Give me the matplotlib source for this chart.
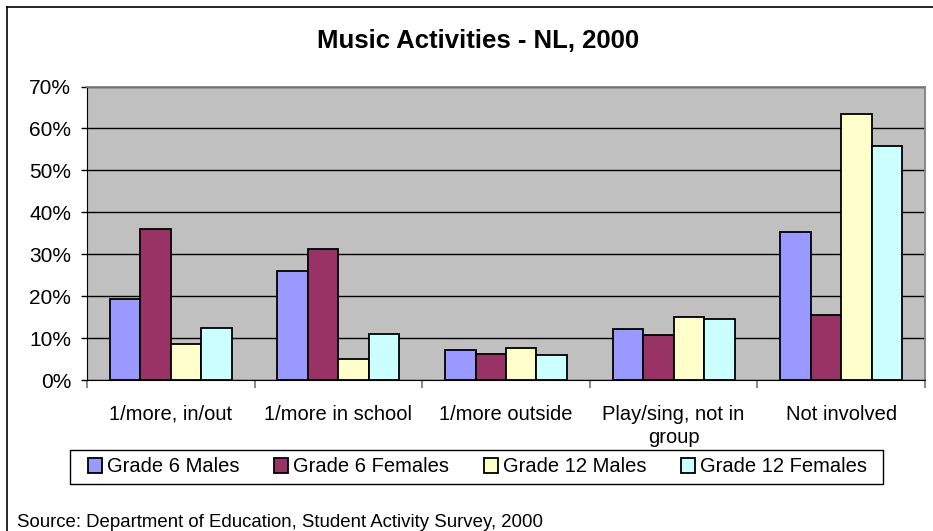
import numpy as np
import matplotlib
matplotlib.use("Agg")
import matplotlib.pyplot as plt
from matplotlib.patches import Patch, Rectangle
from matplotlib.lines import Line2D

plt.rcParams['font.family'] = ['Liberation Sans', 'DejaVu Sans']

### DATA ###
categories = ["1/more, in/out", "1/more in school", "1/more outside",
              "Play/sing, not in\ngroup", "Not involved"]
series_names = ["Grade 6 Males", "Grade 6 Females", "Grade 12 Males", "Grade 12 Females"]
g6_males    = [19.3, 25.9, 7.1, 12.2, 35.2]
g6_females  = [35.9, 31.2, 6.1, 10.7, 15.4]
g12_males   = [8.7, 4.9, 7.6, 15.1, 63.5]
g12_females = [12.3, 11.0, 6.0, 14.6, 55.8]
yticks = [0, 10, 20, 30, 40, 50, 60, 70]

colors = ["#9999FF", "#993366", "#FFFFCC", "#CCFFFF"]

### PLOTTING ###
W, H = 933, 531
fig = plt.figure(figsize=(W / 100, H / 100), dpi=100)
ax = fig.add_axes([87 / W, 1 - 380 / H, (925 - 87) / W, (380 - 86.5) / H])
ax.set_facecolor("#C0C0C0")

x = np.arange(len(categories))
bw = 1 / 5.5
allseries = [g6_males, g6_females, g12_males, g12_females]
for i, vals in enumerate(allseries):
    ax.bar(x + (i - 1.5) * bw, vals, width=bw, color=colors[i],
           edgecolor="black", linewidth=1.3, zorder=3)

ax.set_xlim(-0.5, len(categories) - 0.5)
ax.set_ylim(0, 70)
ax.set_yticks(yticks)
ax.set_yticklabels(["{}%".format(v) for v in yticks], fontsize=15)
ax.yaxis.grid(True, color="black", linewidth=1.0, zorder=1)
ax.set_axisbelow(True)

ax.set_xticks(x)
ax.set_xticklabels(categories, fontsize=14.5, linespacing=1.25)
ax.tick_params(axis="x", length=0, pad=18)
ax.set_xticks(np.arange(len(categories) + 1) - 0.5, minor=True)
ax.tick_params(axis="x", which="minor", length=6, color="#808080", width=1.3)
ax.tick_params(axis="y", length=4.5, width=1.0, color="black", pad=7)

for s in ["top", "right"]:
    ax.spines[s].set_color("#808080")
    ax.spines[s].set_linewidth(1.3)
ax.spines["left"].set_color("black")
ax.spines["bottom"].set_color("black")

fig.text(478.5 / W, 1 - 48 / H, "Music Activities - NL, 2000", ha="center", va="baseline",
         fontsize=18.5, fontweight="bold")

# legend: entries without frame, frame drawn as its own box
handles = [Patch(facecolor=c, edgecolor="black", linewidth=1.3) for c in colors]
leg = fig.legend(handles, series_names, loc="center", ncol=4,
                 bbox_to_anchor=(477.5 / W, 1 - 467 / H),
                 fontsize=14.5, frameon=False, borderaxespad=0, borderpad=0,
                 handlelength=0.72, handleheight=0.72, handletextpad=0.25,
                 columnspacing=1.7)
fig.add_artist(Rectangle((70 / W, 1 - 484 / H), (883 - 70) / W, 34 / H,
                         transform=fig.transFigure, facecolor="none",
                         edgecolor="black", linewidth=1.0))

fig.text(17 / W, 1 - 527 / H, "Source: Department of Education, Student Activity Survey, 2000",
         ha="left", va="baseline", fontsize=13.4)

# chart area border (only left and top edges are visible)
fig.add_artist(Line2D([7 / W, 7 / W], [0, 1 - 7 / H], color="black", linewidth=1.2))
fig.add_artist(Line2D([7 / W, 1], [1 - 7 / H, 1 - 7 / H], color="black", linewidth=1.2))

plt.savefig("out.png", dpi=100)
